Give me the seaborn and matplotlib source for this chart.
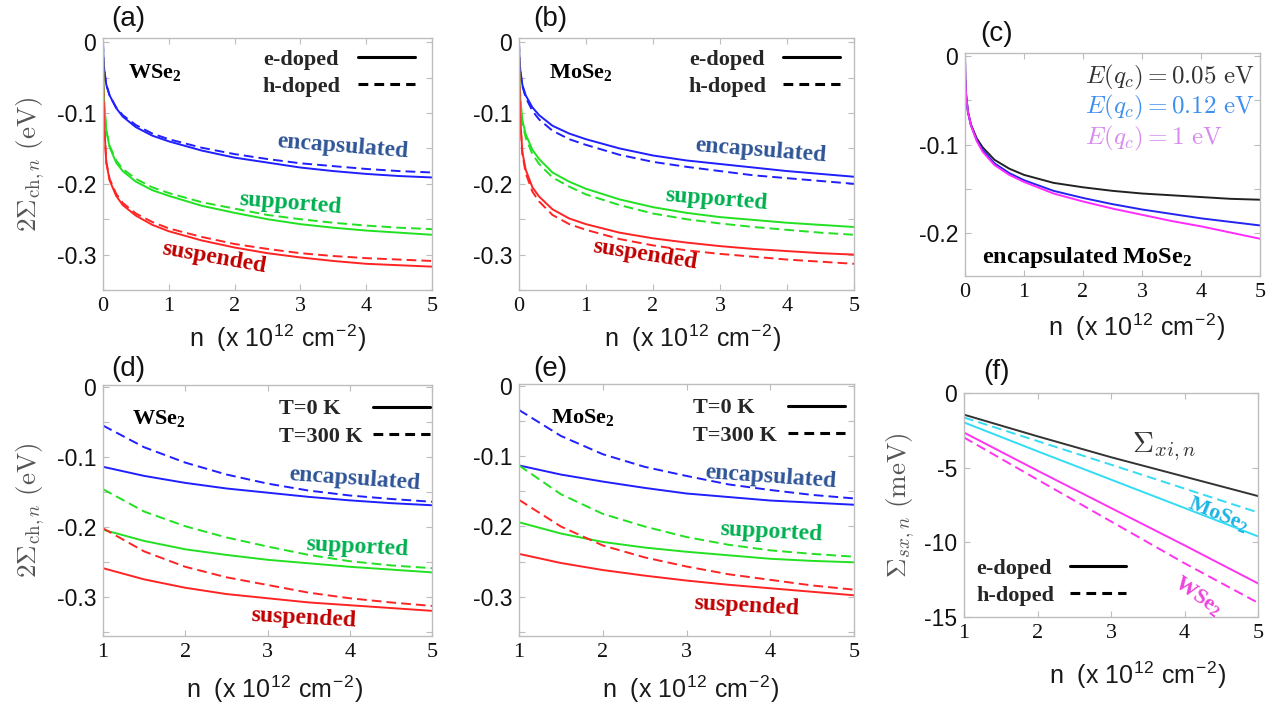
import numpy as np
import pandas as pd
import matplotlib
matplotlib.use("Agg")
import matplotlib.pyplot as plt
from matplotlib.lines import Line2D
import seaborn as sns

# ---------------- data ----------------
n_full = [0, 0.005, 0.02, 0.05, 0.1, 0.2, 0.3, 0.5, 0.75, 1, 1.5, 2, 2.5, 3, 3.5, 4, 4.5, 5]
n_hi = [1, 1.5, 2, 2.5, 3, 3.5, 4, 4.5, 5]
n_sx = [1, 2, 3, 4, 5]

# (a) WSe2, e-doped / h-doped
a_encap_e = [0, -0.02, -0.04, -0.06, -0.075, -0.093, -0.105, -0.12, -0.132, -0.14, -0.153, -0.163, -0.17, -0.177, -0.182, -0.186, -0.189, -0.191]
a_encap_h = [0, -0.02, -0.04, -0.06, -0.075, -0.092, -0.103, -0.117, -0.129, -0.137, -0.149, -0.158, -0.165, -0.171, -0.175, -0.179, -0.182, -0.184]
a_supp_e = [0, -0.05, -0.09, -0.125, -0.148, -0.17, -0.182, -0.197, -0.209, -0.217, -0.231, -0.241, -0.25, -0.257, -0.262, -0.266, -0.269, -0.272]
a_supp_h = [0, -0.05, -0.09, -0.124, -0.146, -0.167, -0.179, -0.193, -0.205, -0.213, -0.226, -0.235, -0.244, -0.25, -0.255, -0.259, -0.262, -0.264]
a_susp_e = [0, -0.07, -0.12, -0.17, -0.195, -0.217, -0.23, -0.245, -0.258, -0.267, -0.28, -0.29, -0.298, -0.304, -0.309, -0.313, -0.315, -0.317]
a_susp_h = [0, -0.07, -0.12, -0.169, -0.193, -0.214, -0.227, -0.242, -0.254, -0.263, -0.275, -0.285, -0.292, -0.298, -0.302, -0.305, -0.307, -0.309]

# (b) MoSe2, e-doped / h-doped
b_encap_e = [0, -0.02, -0.04, -0.06, -0.075, -0.092, -0.103, -0.118, -0.129, -0.137, -0.15, -0.16, -0.167, -0.172, -0.177, -0.182, -0.186, -0.19]
b_encap_h = [0, -0.02, -0.041, -0.062, -0.078, -0.097, -0.109, -0.125, -0.137, -0.145, -0.159, -0.169, -0.176, -0.182, -0.188, -0.192, -0.196, -0.2]
b_supp_e = [0, -0.045, -0.08, -0.11, -0.13, -0.152, -0.165, -0.184, -0.197, -0.207, -0.222, -0.233, -0.241, -0.247, -0.251, -0.255, -0.258, -0.261]
b_supp_h = [0, -0.045, -0.082, -0.113, -0.135, -0.158, -0.172, -0.191, -0.204, -0.215, -0.23, -0.242, -0.25, -0.256, -0.261, -0.265, -0.269, -0.272]
b_susp_e = [0, -0.06, -0.11, -0.155, -0.18, -0.205, -0.218, -0.236, -0.249, -0.257, -0.269, -0.277, -0.283, -0.288, -0.292, -0.295, -0.298, -0.3]
b_susp_h = [0, -0.06, -0.112, -0.158, -0.185, -0.211, -0.225, -0.244, -0.257, -0.265, -0.278, -0.287, -0.294, -0.299, -0.303, -0.307, -0.31, -0.313]

# (c) encapsulated MoSe2, cutoff energies
c_e005 = [0, -0.025, -0.045, -0.063, -0.077, -0.093, -0.103, -0.117, -0.127, -0.134, -0.143, -0.148, -0.152, -0.155, -0.157, -0.159, -0.161, -0.162]
c_e012 = [0, -0.025, -0.045, -0.063, -0.078, -0.095, -0.106, -0.121, -0.132, -0.14, -0.152, -0.16, -0.167, -0.173, -0.178, -0.183, -0.187, -0.191]
c_e1 = [0, -0.025, -0.045, -0.063, -0.078, -0.096, -0.108, -0.123, -0.134, -0.142, -0.155, -0.164, -0.172, -0.179, -0.186, -0.192, -0.199, -0.206]

# (d) WSe2, T=0 K / T=300 K
d_encap_0 = [-0.114, -0.127, -0.137, -0.145, -0.151, -0.157, -0.162, -0.166, -0.169]
d_encap_300 = [-0.055, -0.086, -0.108, -0.125, -0.138, -0.148, -0.155, -0.16, -0.164]
d_supp_0 = [-0.204, -0.22, -0.232, -0.24, -0.247, -0.252, -0.257, -0.261, -0.265]
d_supp_300 = [-0.146, -0.178, -0.199, -0.215, -0.228, -0.24, -0.249, -0.255, -0.259]
d_susp_0 = [-0.259, -0.275, -0.287, -0.296, -0.302, -0.308, -0.312, -0.316, -0.32]
d_susp_300 = [-0.202, -0.235, -0.257, -0.272, -0.283, -0.294, -0.302, -0.308, -0.313]

# (e) MoSe2, T=0 K / T=300 K
e_encap_0 = [-0.113, -0.126, -0.136, -0.145, -0.153, -0.158, -0.163, -0.166, -0.169]
e_encap_300 = [-0.034, -0.071, -0.097, -0.115, -0.128, -0.14, -0.148, -0.155, -0.16]
e_supp_0 = [-0.194, -0.21, -0.222, -0.23, -0.236, -0.241, -0.246, -0.249, -0.251]
e_supp_300 = [-0.113, -0.154, -0.182, -0.2, -0.215, -0.226, -0.234, -0.239, -0.243]
e_susp_0 = [-0.239, -0.252, -0.262, -0.27, -0.277, -0.283, -0.288, -0.293, -0.298]
e_susp_300 = [-0.162, -0.2, -0.227, -0.244, -0.257, -0.268, -0.276, -0.284, -0.29]

# (f) exchange self-energy (meV)
f_xi = [-1.45, -2.9, -4.3, -5.6, -6.9]
f_mose2_e = [-1.97, -3.9, -5.8, -7.7, -9.6]
f_mose2_h = [-1.64, -3.22, -4.8, -6.4, -8.0]
f_wse2_e = [-2.65, -5.2, -7.7, -10.2, -12.75]
f_wse2_h = [-2.98, -5.8, -8.6, -11.4, -14.05]

xticks_full = [0, 1, 2, 3, 4, 5]
xticks_hi = [1, 2, 3, 4, 5]
yticks_ch = [0, -0.05, -0.1, -0.15, -0.2, -0.25, -0.3, -0.35]
yticklabels_ch = ["0", "", "-0.1", "", "-0.2", "", "-0.3", ""]
yticks_c = [0, -0.05, -0.1, -0.15, -0.2]
yticklabels_c = ["0", "", "-0.1", "", "-0.2"]
yticks_f = [0, -5, -10, -15]
yticklabels_f = ["0", "-5", "-10", "-15"]

doping_labels = ["e-doped", "h-doped"]
temp_labels = ["T=0 K", "T=300 K"]

# ---------------- style ----------------
sns.set_theme(style="ticks")
plt.rcParams.update({
    "font.family": ["Liberation Sans", "DejaVu Sans"],
    "mathtext.fontset": "cm",
    "mathtext.bf": "Liberation Serif:bold",
    "mathtext.rm": "Liberation Serif:bold",
    "mathtext.it": "Liberation Serif:bold:italic",
    "axes.unicode_minus": False,
    "axes.edgecolor": "#bdbdbd",
    "axes.linewidth": 1.0,
    "figure.facecolor": "white",
    "axes.facecolor": "white",
})

W, H = 1288, 704
fig = plt.figure(figsize=(W / 100, H / 100), dpi=100)


def add_ax(l, t, r, b):
    return fig.add_axes([l / W, 1 - b / H, (r - l) / W, (b - t) / H])


line_pal = {"encapsulated": "#1f1fff", "supported": "#22e022", "suspended": "#ff2424"}
text_pal = {"encapsulated": "#2f5597", "supported": "#00b050", "suspended": "#c00000"}
LW = 1.4
DASH = (5, 2.6)
bold_serif = dict(family="Liberation Serif", weight="bold")
LABEL_GREY = "#555555"
XLABEL = r"n  (x 10$^{\mathregular{12}}$ cm$^{\mathregular{-2}}$)"
LEG_PROP = dict(family="Liberation Serif", weight="bold", size=16)


def long_df(n, series):
    rows = []
    for (sub, sty), vals in series.items():
        for x, v in zip(n, vals):
            rows.append({"n": x, "val": v, "sub": sub, "sty": sty})
    return pd.DataFrame(rows)


def style_ax(ax, xlim, ylim, xticks, yticks, yticklabels):
    ax.set_xlim(*xlim)
    ax.set_ylim(*ylim)
    ax.set_xticks(xticks)
    ax.set_xticklabels([str(t) for t in xticks], fontfamily="Liberation Serif", fontsize=16)
    ax.set_yticks(yticks)
    ax.set_yticklabels(yticklabels, fontfamily="Liberation Sans", fontsize=16.5)
    ax.tick_params(axis="both", direction="in", top=True, right=True, length=4,
                   width=0.8, color="#bdbdbd", labelcolor="#111111", pad=5)
    for s in ax.spines.values():
        s.set_color("#bdbdbd")
        s.set_visible(True)
    ax.set_xlabel(XLABEL, fontsize=18, color="#1a1a1a")


def set_xlabel_pos(ax, x, y):
    ax.xaxis.set_label_coords(x, y)


def draw_ch(ax, n, data, style_names):
    df = long_df(n, data)
    sns.lineplot(data=df, x="n", y="val", hue="sub", style="sty", palette=line_pal,
                 dashes={style_names[0]: "", style_names[1]: DASH}, estimator=None,
                 legend=False, ax=ax, linewidth=LW, sort=False)


def ch_ylabel(ax, ypos, xpos):
    ax.set_ylabel(r"$2\Sigma_{\mathrm{ch},n}\ (\mathrm{eV})$", fontsize=19.5, color=LABEL_GREY,
                  math_fontfamily="cm")
    ax.yaxis.set_label_coords(xpos, ypos)


def mini_legend(ax, labels, text_left, line_right, yref, hl, lower=False):
    """Two-part legend: left-aligned labels and right-aligned line keys."""
    keys = [Line2D([], [], color="black", lw=2.2, ls="-"),
            Line2D([], [], color="black", lw=2.2, ls=(0, (3.2, 2.0)))]
    blanks = [Line2D([], [], color="none") for _ in labels]
    common = dict(frameon=False, prop=LEG_PROP, labelspacing=0.3, borderaxespad=0.0,
                  borderpad=0.0)
    vloc = "lower" if lower else "upper"
    leg_keys = ax.legend(keys, [" ", " "], loc=f"{vloc} right", bbox_to_anchor=(line_right, yref),
                         handlelength=hl, handletextpad=0.0, **common)
    ax.add_artist(leg_keys)
    ax.legend(blanks, labels, loc=f"{vloc} left", bbox_to_anchor=(text_left, yref),
              handlelength=0.0, handletextpad=0.0, **common)


def sub_text(ax, x, y, s, color, rot, size=17, ha="center"):
    ax.text(x, y, s, color=color, rotation=rot, rotation_mode="anchor", ha=ha, va="center",
            fontsize=size, math_fontfamily="custom", **bold_serif)


# ---------------- (a) ----------------
ax_a = add_ax(103, 38, 432, 290)
draw_ch(ax_a, n_full, {
    ("encapsulated", "e"): a_encap_e, ("encapsulated", "h"): a_encap_h,
    ("supported", "e"): a_supp_e, ("supported", "h"): a_supp_h,
    ("suspended", "e"): a_susp_e, ("suspended", "h"): a_susp_h}, ["e", "h"])
style_ax(ax_a, (0, 5), (-0.35, 0.006), xticks_full, yticks_ch, yticklabels_ch)
ch_ylabel(ax_a, 0.5, -0.17)
set_xlabel_pos(ax_a, 0.53, -0.13)
mini_legend(ax_a, doping_labels, 0.486, 0.965, 0.955, 2.57)
sub_text(ax_a, 0.38, -0.043, r"WSe$_\mathbf{2}$", "black", 0, size=16, ha="left")
sub_text(ax_a, 3.65, -0.147, "encapsulated", text_pal["encapsulated"], -4.5)
sub_text(ax_a, 2.85, -0.228, "supported", text_pal["supported"], -4.5)
sub_text(ax_a, 1.69, -0.305, "suspended", text_pal["suspended"], -10)

# ---------------- (b) ----------------
ax_b = add_ax(519, 38, 854, 290)
draw_ch(ax_b, n_full, {
    ("encapsulated", "e"): b_encap_e, ("encapsulated", "h"): b_encap_h,
    ("supported", "e"): b_supp_e, ("supported", "h"): b_supp_h,
    ("suspended", "e"): b_susp_e, ("suspended", "h"): b_susp_h}, ["e", "h"])
style_ax(ax_b, (0, 5), (-0.35, 0.006), xticks_full, yticks_ch, yticklabels_ch)
ax_b.set_ylabel("")
set_xlabel_pos(ax_b, 0.518, -0.13)
mini_legend(ax_b, doping_labels, 0.507, 0.975, 0.955, 2.57)
sub_text(ax_b, 0.45, -0.043, r"MoSe$_\mathbf{2}$", "black", 0, size=16, ha="left")
sub_text(ax_b, 3.61, -0.153, "encapsulated", text_pal["encapsulated"], -4.5)
sub_text(ax_b, 2.94, -0.222, "supported", text_pal["supported"], -4.5)
sub_text(ax_b, 1.88, -0.301, "suspended", text_pal["suspended"], -9)

# ---------------- (c) ----------------
ax_c = add_ax(965, 53, 1260, 276)
c_pal = {"0.05": "#222222", "0.12": "#2424f0", "1": "#ff2cff"}
df_c = pd.DataFrame({"n": n_full * 3,
                     "val": c_e005 + c_e012 + c_e1,
                     "cut": ["0.05"] * len(n_full) + ["0.12"] * len(n_full) + ["1"] * len(n_full)})
sns.lineplot(data=df_c, x="n", y="val", hue="cut", palette=c_pal, estimator=None,
             legend=False, ax=ax_c, linewidth=1.4, sort=False)
style_ax(ax_c, (0, 5), (-0.248, 0.0034), xticks_full, yticks_c, yticklabels_c)
ax_c.set_ylabel("")
set_xlabel_pos(ax_c, 0.583, -0.16)
c_txt = [(r"$E(q_c) = 0.05\ \mathrm{eV}$", "#333333", -0.024),
         (r"$E(q_c) = 0.12\ \mathrm{eV}$", "#3d8ff0", -0.058),
         (r"$E(q_c) = 1\ \mathrm{eV}$", "#d98af0", -0.093)]
for s, col, yv in c_txt:
    ax_c.text(2.03, yv, s, color=col, fontsize=18, ha="left", va="center", math_fontfamily="cm")
sub_text(ax_c, 0.29, -0.227, r"encapsulated MoSe$_\mathbf{2}$", "black", 0, size=17.5, ha="left")

# ---------------- (d) ----------------
ax_d = add_ax(103, 385, 432, 636)
draw_ch(ax_d, n_hi, {
    ("encapsulated", "T0"): d_encap_0, ("encapsulated", "T300"): d_encap_300,
    ("supported", "T0"): d_supp_0, ("supported", "T300"): d_supp_300,
    ("suspended", "T0"): d_susp_0, ("suspended", "T300"): d_susp_300}, ["T0", "T300"])
style_ax(ax_d, (1, 5), (-0.356, 0.003), xticks_hi, yticks_ch, yticklabels_ch)
ch_ylabel(ax_d, 0.5, -0.17)
set_xlabel_pos(ax_d, 0.523, -0.15)
mini_legend(ax_d, temp_labels, 0.535, 1.01, 0.945, 2.57)
sub_text(ax_d, 1.35, -0.045, r"WSe$_\mathbf{2}$", "black", 0, size=16, ha="left")
sub_text(ax_d, 4.06, -0.131, "encapsulated", text_pal["encapsulated"], -4)
sub_text(ax_d, 4.09, -0.229, "supported", text_pal["supported"], -3)
sub_text(ax_d, 3.44, -0.33, "suspended", text_pal["suspended"], -3)

# ---------------- (e) ----------------
ax_e = add_ax(519, 384, 854, 636)
draw_ch(ax_e, n_hi, {
    ("encapsulated", "T0"): e_encap_0, ("encapsulated", "T300"): e_encap_300,
    ("supported", "T0"): e_supp_0, ("supported", "T300"): e_supp_300,
    ("suspended", "T0"): e_susp_0, ("suspended", "T300"): e_susp_300}, ["T0", "T300"])
style_ax(ax_e, (1, 5), (-0.356, 0.003), xticks_hi, yticks_ch, yticklabels_ch)
ax_e.set_ylabel("")
set_xlabel_pos(ax_e, 0.513, -0.15)
mini_legend(ax_e, temp_labels, 0.519, 0.99, 0.945, 2.57)
sub_text(ax_e, 1.38, -0.045, r"MoSe$_\mathbf{2}$", "black", 0, size=16, ha="left")
sub_text(ax_e, 4.0, -0.129, "encapsulated", text_pal["encapsulated"], -4)
sub_text(ax_e, 4.01, -0.208, "supported", text_pal["supported"], -3)
sub_text(ax_e, 3.72, -0.313, "suspended", text_pal["suspended"], -3)

# ---------------- (f) ----------------
ax_f = add_ax(964, 393, 1258, 617)
f_pal = {"xi": "#333333", "MoSe2": "#33dcf5", "WSe2": "#ff33f0"}
df_f = long_df(n_sx, {("xi", "e"): f_xi, ("MoSe2", "e"): f_mose2_e, ("MoSe2", "h"): f_mose2_h,
                      ("WSe2", "e"): f_wse2_e, ("WSe2", "h"): f_wse2_h})
sns.lineplot(data=df_f, x="n", y="val", hue="sub", style="sty", palette=f_pal,
             dashes={"e": "", "h": DASH}, estimator=None, legend=False, ax=ax_f,
             linewidth=1.4, sort=False)
style_ax(ax_f, (1, 5), (-15, 0), xticks_hi, yticks_f, yticklabels_f)
ax_f.set_ylabel(r"$\Sigma_{sx,n}\ (\mathrm{meV})$", fontsize=19.5, color=LABEL_GREY,
                math_fontfamily="cm")
ax_f.yaxis.set_label_coords(-0.16, 0.5)
set_xlabel_pos(ax_f, 0.592, -0.19)
mini_legend(ax_f, doping_labels, 0.041, 0.57, 0.05, 2.5, lower=True)
ax_f.text(3.29, -3.6, r"$\Sigma_{xi,n}$", fontsize=21, color="#333333", ha="left", va="center",
          math_fontfamily="cm")
sub_text(ax_f, 4.46, -8.1, r"MoSe$_\mathbf{2}$", "#1eb4e6", -22, size=16)
sub_text(ax_f, 4.18, -13.6, r"WSe$_\mathbf{2}$", "#ee44dd", -35, size=16)

# ---------------- panel labels ----------------
for lab, px, py in [("(a)", 128, 19), ("(b)", 550, 19), ("(c)", 997, 34),
                    ("(d)", 128, 369), ("(e)", 550, 369), ("(f)", 997, 372)]:
    fig.text(px / W, 1 - py / H, lab, fontsize=20, ha="center", va="center", color="#111111",
             family="Liberation Sans")

fig.savefig("out.png", dpi=100)
